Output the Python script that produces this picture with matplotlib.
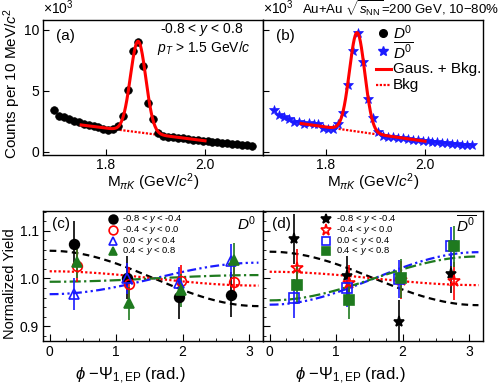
import numpy as np
import matplotlib
matplotlib.use("Agg")
import matplotlib.pyplot as plt

plt.rcParams['font.family'] = ['Liberation Sans', 'DejaVu Sans']
plt.rcParams['mathtext.fontset'] = 'custom'
plt.rcParams['mathtext.rm'] = 'Liberation Sans'
plt.rcParams['mathtext.it'] = 'Liberation Sans:italic'
plt.rcParams['mathtext.bf'] = 'Liberation Sans:bold'

# ---------------- data: invariant mass panels ----------------
mass = [1.695, 1.705, 1.715, 1.725, 1.735, 1.745, 1.755, 1.765, 1.775, 1.785,
        1.795, 1.805, 1.815, 1.825, 1.835, 1.845, 1.855, 1.865, 1.875, 1.885,
        1.895, 1.905, 1.915, 1.925, 1.935, 1.945, 1.955, 1.965, 1.975, 1.985,
        1.995, 2.005, 2.015, 2.025, 2.035, 2.045, 2.055, 2.065, 2.075, 2.085,
        2.095]
counts_d0 = [3.4, 2.95, 2.85, 2.7, 2.55, 2.4, 2.3, 2.2, 2.1, 2.0,
             1.9, 1.8, 1.85, 2.1, 2.9, 5.05, 8.25, 9.0, 7.0, 4.0,
             2.65, 1.55, 1.3, 1.25, 1.2, 1.15, 1.1, 1.05, 1.0, 0.95,
             0.9, 0.85, 0.8, 0.78, 0.72, 0.68, 0.65, 0.6, 0.55, 0.52,
             0.48]
counts_d0bar = [3.4, 3.05, 2.85, 2.65, 2.45, 2.4, 2.3, 2.35, 2.3, 2.3,
                1.95, 1.9, 1.85, 2.3, 3.2, 5.45, 8.25, 9.75, 7.35, 4.35,
                2.8, 1.65, 1.3, 1.25, 1.2, 1.15, 1.1, 1.05, 1.0, 0.95,
                0.9, 0.85, 0.82, 0.78, 0.72, 0.7, 0.65, 0.6, 0.58, 0.55,
                0.52]
# fit parameters: [gauss amplitude, mean, sigma, bkg at mean, bkg slope]
fit_d0 = [7.45, 1.865, 0.0155, 1.60, -5.2]
fit_d0bar = [8.1, 1.863, 0.0154, 1.66, -5.8]
fit_range = [1.75, 2.0]

# ---------------- data: normalized yield panels ----------------
phi_bins = [0.393, 1.178, 1.963, 2.749]
rap_labels = ['-0.8 < $y$ < -0.4', '-0.4 < $y$ < 0.0', '0.0 < $y$ < 0.4', '0.4 < $y$ < 0.8']

yield_c = [[1.073, 1.001, 0.961, 0.966],
           [1.027, 0.988, 0.994, 0.993],
           [0.967, 1.000, 0.990, 1.037],
           [1.035, 0.948, 0.975, 1.038]]
err_c = [[0.047, 0.045, 0.045, 0.047],
         [0.035, 0.035, 0.035, 0.035],
         [0.033, 0.033, 0.033, 0.035],
         [0.035, 0.035, 0.035, 0.037]]
amp_c = [0.058, 0.015, -0.033, -0.007]

yield_d = [[1.083, 1.006, 0.909, 1.010],
           [1.022, 0.990, 0.997, 0.994],
           [0.958, 0.979, 0.998, 1.067],
           [0.987, 0.954, 1.000, 1.067]]
err_d = [[0.052, 0.040, 0.045, 0.040],
         [0.040, 0.038, 0.040, 0.040],
         [0.040, 0.038, 0.040, 0.040],
         [0.040, 0.038, 0.040, 0.042]]
amp_d = [0.056, 0.014, -0.055, -0.046]

# ---------------- figure ----------------
fig = plt.figure(figsize=(5.0, 3.91), dpi=100)
axa = fig.add_axes([0.086, 0.604, 0.44, 0.345])
axb = fig.add_axes([0.526, 0.604, 0.44, 0.345])
axc = fig.add_axes([0.086, 0.128, 0.44, 0.332])
axd = fig.add_axes([0.526, 0.128, 0.44, 0.332])

RED = '#ff0000'
BLUE = '#1a1aff'
GREEN = '#1f7a1f'


def gaus_bkg(m, p):
    return p[0] * np.exp(-0.5 * ((m - p[1]) / p[2]) ** 2) + p[3] + p[4] * (m - p[1])


def bkg(m, p):
    return p[3] + p[4] * (m - p[1])


def mass_panel(ax, counts, fit, marker, color, ms, showy):
    m = np.array(mass)
    ax.plot(m, counts, linestyle='none', marker=marker, color=color, ms=ms,
            markeredgewidth=0.5, zorder=3)
    mm = np.linspace(fit_range[0], fit_range[1], 400)
    ax.plot(mm, gaus_bkg(mm, fit), color=RED, lw=2.2, zorder=4)
    mb = np.linspace(fit[1] - 0.045, fit[1] + 0.045, 50)
    ax.plot(mb, bkg(mb, fit), color=RED, lw=1.6, ls=(0, (1, 0.7)), zorder=2)
    ax.set_xlim(1.673, 2.117)
    ax.set_ylim(-0.25, 10.8)
    ax.set_xticks([1.8, 2.0])
    ax.set_xticklabels(['1.8', '2.0'])
    ax.set_yticks([0, 5, 10])
    if showy:
        ax.set_yticklabels(['0', '5', '10'])
    else:
        ax.set_yticklabels([])
    ax.tick_params(direction='in', length=4, labelsize=10, pad=2.5)
    ax.text(0.5, -0.24, r'M$_{\pi K}$ (GeV/$c^2$)', transform=ax.transAxes,
            ha='center', va='baseline', fontsize=11)
    ax.text(0.0, 1.02, r'$\times$10$^3$', transform=ax.transAxes, ha='left',
            va='bottom', fontsize=10)


mass_panel(axa, counts_d0, fit_d0, 'o', 'black', 5.5, True)
mass_panel(axb, counts_d0bar, fit_d0bar, '*', BLUE, 7, False)

axa.text(0.06, 0.93, '(a)', transform=axa.transAxes, fontsize=11, va='top')
axb.text(0.06, 0.93, '(b)', transform=axb.transAxes, fontsize=11, va='top')
axa.text(0.53, 0.905, '-0.8 < $y$ < 0.8', transform=axa.transAxes, fontsize=10, va='baseline')
axa.text(0.52, 0.76, r'$p_T$ > 1.5 GeV/$c$', transform=axa.transAxes, fontsize=10,
         va='baseline', clip_on=False)
fig.text(0.024, 0.786, r'Counts per 10 MeV/$c^2$', fontsize=11, rotation=90,
         ha='center', va='center')

fig.text(0.604, 0.962, r'Au+Au $\sqrt{s_{\rm NN}}$=200 GeV, 10$-$80%', fontsize=9.5,
         ha='left', va='baseline')

# legend (b)
lx_m, lx_t = 0.547, 0.59
rows = [0.904, 0.77, 0.637, 0.519]
axb.plot([lx_m], [rows[0]], 'o', color='black', ms=5.5, transform=axb.transAxes, clip_on=False)
axb.text(lx_t, rows[0], r'$D^0$', transform=axb.transAxes, fontsize=11, va='center')
axb.plot([lx_m], [rows[1]], '*', color=BLUE, ms=7.5, transform=axb.transAxes, clip_on=False)
axb.text(lx_t, rows[1], r'$\overline{D^0}$', transform=axb.transAxes, fontsize=11, va='center')
axb.plot([lx_m - 0.035, lx_m + 0.035], [rows[2]] * 2, color=RED, lw=2.2, transform=axb.transAxes)
axb.text(lx_t, rows[2], 'Gaus. + Bkg.', transform=axb.transAxes, fontsize=11, va='center')
axb.plot([lx_m - 0.035, lx_m + 0.035], [rows[3]] * 2, color=RED, lw=1.6, ls=(0, (1, 0.7)),
         transform=axb.transAxes)
axb.text(lx_t, rows[3], 'Bkg', transform=axb.transAxes, fontsize=11, va='center')

# ---------------- yield panels ----------------
styles_c = [dict(marker='o', color='black', mfc='black', ms=7),
            dict(marker='o', color=RED, mfc='none', ms=7),
            dict(marker='^', color=BLUE, mfc='none', ms=7),
            dict(marker='^', color=GREEN, mfc=GREEN, ms=7)]
styles_d = [dict(marker='*', color='black', mfc='black', ms=8),
            dict(marker='*', color=RED, mfc='none', ms=9),
            dict(marker='s', color=BLUE, mfc='none', ms=6.5),
            dict(marker='s', color=GREEN, mfc=GREEN, ms=6.5)]
line_styles = [dict(color='black', ls=(0, (3, 2)), lw=1.6),
               dict(color=RED, ls=(0, (1, 1)), lw=1.6),
               dict(color=BLUE, ls=(0, (4, 1.5, 1, 1.5, 1, 1.5)), lw=1.6),
               dict(color=GREEN, ls=(0, (5, 1.5, 1, 1.5)), lw=1.6)]
dx = [-0.02, 0.02, -0.02, 0.02]


def yield_panel(ax, yields, errs, amps, styles, showy, tag, species, leg_mx, leg_tx):
    phi = np.linspace(0, np.pi, 300)
    for i in range(4):
        ax.plot(phi, 1 + amps[i] * np.cos(phi), zorder=2, **line_styles[i])
    for i in range(4):
        st = styles[i]
        x = np.array(phi_bins) + dx[i]
        ax.errorbar(x, yields[i], yerr=errs[i], linestyle='none', marker=st['marker'],
                    color=st['color'], mfc=st['mfc'], mec=st['color'], ms=st['ms'],
                    elinewidth=1.2, mew=1.2, capsize=0, zorder=3)
    ax.set_xlim(-0.1, 3.21)
    ax.set_ylim(0.869, 1.141)
    ax.set_xticks([0, 1, 2, 3])
    ax.set_xticks(np.arange(0, 3.21, 0.25), minor=True)
    ax.set_yticks([0.9, 1.0, 1.1])
    ax.set_yticks(np.arange(0.88, 1.141, 0.02), minor=True)
    if showy:
        ax.set_yticklabels(['0.9', '1.0', '1.1'])
    else:
        ax.set_yticklabels([])
    ax.set_xticklabels(['0', '1', '2', '3'])
    ax.tick_params(which='major', direction='in', length=5, labelsize=10, pad=3)
    ax.tick_params(which='minor', direction='in', length=2.5)
    ax.text(0.395, -0.30, r'$\phi$ $-\Psi_{\rm 1,EP}$ (rad.)', transform=ax.transAxes,
            ha='center', va='baseline', fontsize=12)
    ax.text(0.04, 0.9, tag, transform=ax.transAxes, fontsize=11, va='center')
    ax.text(0.97, 0.9, species, transform=ax.transAxes, fontsize=11, va='center', ha='right')
    leg_rows = [0.937, 0.855, 0.773, 0.691]
    for i in range(4):
        st = styles[i]
        ax.plot([leg_mx], [leg_rows[i]], linestyle='none', marker=st['marker'], color=st['color'],
                mfc=st['mfc'], mec=st['color'], ms=st['ms'] * 0.9, mew=1.2,
                transform=ax.transAxes, clip_on=False)
        ax.text(leg_tx, leg_rows[i], rap_labels[i], transform=ax.transAxes, fontsize=6.8,
                va='center')


yield_panel(axc, yield_c, err_c, amp_c, styles_c, True, '(c)', r'$D^0$', 0.318, 0.36)
yield_panel(axd, yield_d, err_d, amp_d, styles_d, False, '(d)', r'$\overline{D^0}$', 0.286, 0.33)
fig.text(0.02, 0.275, 'Normalized Yield', fontsize=10.5, rotation=90,
         ha='center', va='center')

for ax in (axa, axb, axc, axd):
    for s in ax.spines.values():
        s.set_linewidth(1.0)

fig.savefig('out.png', dpi=100)
